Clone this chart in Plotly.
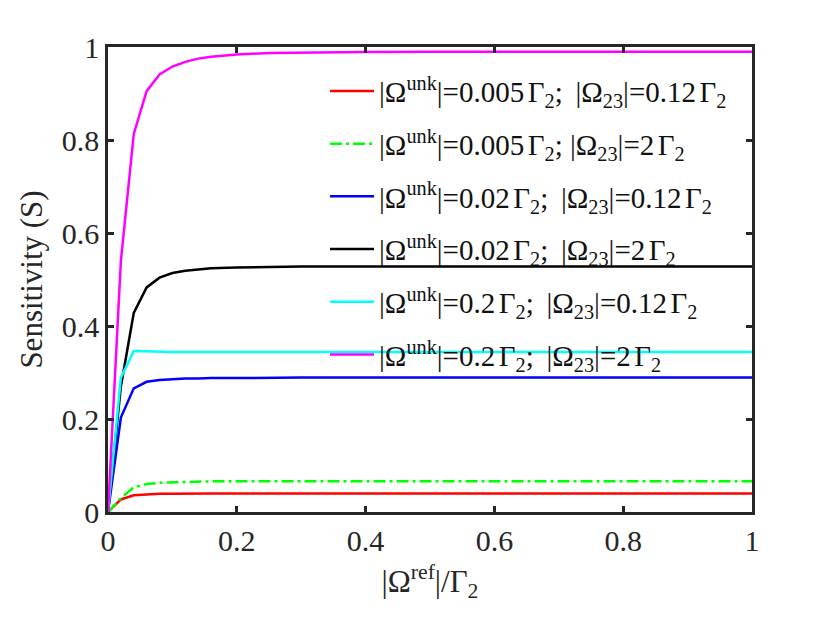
import plotly.graph_objects as go

# sampled |Omega_ref| / Gamma_2 values
x_ref = [0, 0.02, 0.04, 0.06, 0.08, 0.1, 0.12, 0.14, 0.16, 0.2, 0.25, 0.3,
         0.4, 0.5, 0.6, 0.7, 0.8, 0.9, 1.0]

s_red = [0, 0.027, 0.036, 0.038, 0.039, 0.0395, 0.04, 0.04, 0.04, 0.04, 0.04,
         0.04, 0.04, 0.04, 0.04, 0.04, 0.04, 0.04, 0.04]
s_green = [0, 0.030, 0.053, 0.060, 0.063, 0.064, 0.065, 0.065, 0.066, 0.066,
           0.066, 0.066, 0.066, 0.066, 0.066, 0.066, 0.066, 0.066, 0.066]
s_blue = [0, 0.203, 0.266, 0.280, 0.284, 0.286, 0.287, 0.287, 0.288, 0.288,
          0.289, 0.289, 0.289, 0.289, 0.289, 0.289, 0.289, 0.289, 0.289]
s_black = [0, 0.27, 0.428, 0.483, 0.504, 0.514, 0.519, 0.522, 0.524, 0.526,
           0.527, 0.528, 0.528, 0.528, 0.528, 0.528, 0.528, 0.528, 0.528]
s_cyan = [0, 0.289, 0.346, 0.345, 0.345, 0.344, 0.344, 0.344, 0.344, 0.344,
          0.344, 0.344, 0.344, 0.344, 0.344, 0.344, 0.344, 0.344, 0.344]
s_magenta = [0, 0.54, 0.813, 0.905, 0.941, 0.958, 0.968, 0.975, 0.979, 0.984,
             0.987, 0.988, 0.989, 0.99, 0.99, 0.99, 0.99, 0.99, 0.99]

# small space before Gamma, wider space between the two terms
SP = '<span style="font-size:14px"> </span>'
GAP = '\u00a0<span style="font-size:22px"> </span>'
labels = [
    f"|Ω<sup>unk</sup>|=0.005{SP}Γ<sub>2</sub>;{GAP}|Ω<sub>23</sub>|=0.12{SP}Γ<sub>2</sub>",
    f"|Ω<sup>unk</sup>|=0.005{SP}Γ<sub>2</sub>; |Ω<sub>23</sub>|=2{SP}Γ<sub>2</sub>",
    f"|Ω<sup>unk</sup>|=0.02{SP}Γ<sub>2</sub>;{GAP}|Ω<sub>23</sub>|=0.12{SP}Γ<sub>2</sub>",
    f"|Ω<sup>unk</sup>|=0.02{SP}Γ<sub>2</sub>;{GAP}|Ω<sub>23</sub>|=2{SP}Γ<sub>2</sub>",
    f"|Ω<sup>unk</sup>|=0.2{SP}Γ<sub>2</sub>;{GAP}|Ω<sub>23</sub>|=0.12{SP}Γ<sub>2</sub>",
    f"|Ω<sup>unk</sup>|=0.2{SP}Γ<sub>2</sub>;{GAP}|Ω<sub>23</sub>|=2{SP}Γ<sub>2</sub>",
]
series = [s_red, s_green, s_blue, s_black, s_cyan, s_magenta]
colors = ["#ff0000", "#00ff00", "#0000ff", "#000000", "#00ffff", "#ff00ff"]
dashes = ["solid", "12px,4px,3px,4px", "solid", "solid", "solid", "solid"]

tick_vals = [0, 0.2, 0.4, 0.6, 0.8, 1]
tick_text = ["0", "0.2", "0.4", "0.6", "0.8", "1"]

FONT = "Liberation Serif"
AXIS_COLOR = "#262626"

fig = go.Figure()
for i, (y, name, c, d) in enumerate(zip(series, labels, colors, dashes)):
    fig.add_trace(
        go.Scatter(x=x_ref, y=y, name=name, mode="lines", legendgroup=f"g{i}",
                   line=dict(color=c, width=2.5, dash=d))
    )

axis_style = dict(
    range=[0, 1],
    tickvals=tick_vals,
    ticktext=tick_text,
    showline=True,
    linecolor=AXIS_COLOR,
    linewidth=2.5,
    mirror="allticks",
    ticks="inside",
    ticklen=6,
    tickwidth=2.5,
    tickcolor=AXIS_COLOR,
    showgrid=False,
    zeroline=False,
    tickfont=dict(family=FONT, size=30, color=AXIS_COLOR),
)
fig.update_xaxes(**axis_style,
                 title=dict(text="|Ω<sup>ref</sup>|/Γ<sub>2</sub>",
                            font=dict(family=FONT, size=31, color=AXIS_COLOR)))
fig.update_yaxes(**axis_style,
                 title=dict(text="Sensitivity (S)", standoff=10,
                            font=dict(family=FONT, size=31, color=AXIS_COLOR)))

fig.update_layout(
    width=830,
    height=623,
    margin=dict(l=100, r=86, t=39, b=119),
    plot_bgcolor="white",
    paper_bgcolor="white",
    font=dict(family=FONT),
    showlegend=True,
    legend=dict(
        x=0.337,
        y=0.96,
        xanchor="left",
        yanchor="top",
        bgcolor="rgba(0,0,0,0)",
        borderwidth=0,
        itemwidth=44,
        tracegroupgap=12,
        font=dict(family=FONT, size=29, color="#111111"),
    ),
)

fig.write_html("out.html")
